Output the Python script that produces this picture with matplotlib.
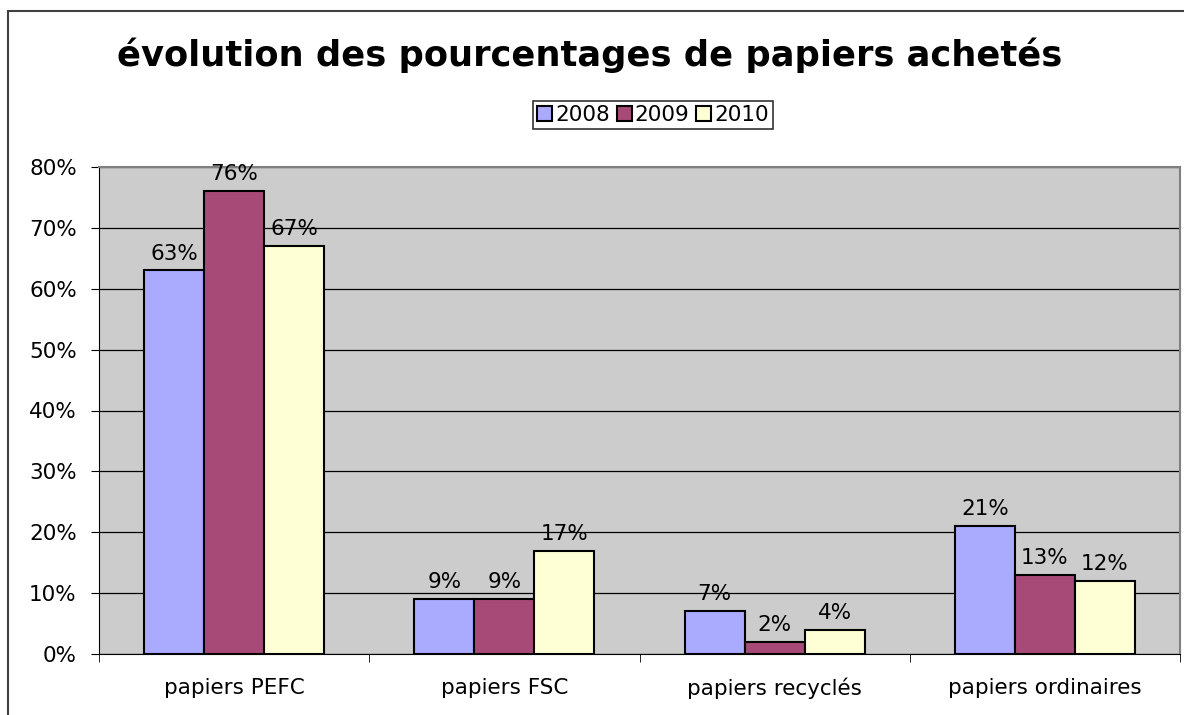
import matplotlib.pyplot as plt
import numpy as np
from matplotlib.patches import Rectangle

# data
categories = ['papiers PEFC', 'papiers FSC', 'papiers recyclés', 'papiers ordinaires']
years = ['2008', '2009', '2010']
v2008 = [63, 9, 7, 21]
v2009 = [76, 9, 2, 13]
v2010 = [67, 17, 4, 12]
colors = ['#AAAAFF', '#A84A78', '#FFFFD6']

fig = plt.figure(figsize=(11.84, 7.15), dpi=100)
ax = fig.add_axes([99/1184, 1 - 654/715, 1081/1184, 487/715])
ax.set_facecolor('#CCCCCC')

fs = 15.5
x = np.arange(len(categories))
w = 0.222
series = [v2008, v2009, v2010]
for i, vals in enumerate(series):
    pos = x + (i - 1) * w
    ax.bar(pos, vals, w, color=colors[i], edgecolor='black', linewidth=1.5,
           label=years[i], zorder=3)
    for p, v in zip(pos, vals):
        ax.annotate(f'{v}%', (p, v), xytext=(0, 5), textcoords='offset points',
                    ha='center', va='bottom', fontsize=fs, zorder=4)

ax.set_xlim(-0.5, len(categories) - 0.5)
ax.set_ylim(0, 80)
ax.set_yticks(range(0, 81, 10))
ax.set_yticklabels([f'{t}%' for t in range(0, 81, 10)], fontsize=fs)
ax.yaxis.grid(True, color='black', linewidth=0.9, zorder=1)

ax.set_xticks(x)
ax.set_xticklabels(categories, fontsize=fs)
ax.tick_params(axis='x', length=0, pad=17)
ax.set_xticks(np.arange(-0.5, len(categories)), minor=True)
ax.tick_params(axis='x', which='minor', length=6, color='black')
ax.tick_params(axis='y', length=6, color='black', pad=10)

for side in ['top', 'right']:
    ax.spines[side].set_color('#808080')
    ax.spines[side].set_linewidth(1.5)
ax.spines['left'].set_color('black')
ax.spines['bottom'].set_color('black')

fig.text(0.498, 1 - 55/715, 'évolution des pourcentages de papiers achetés',
         ha='center', va='center', fontsize=25.4, fontweight='bold')

leg = fig.legend(loc='center', bbox_to_anchor=(653/1184, 1 - 115/715), ncol=3,
                 fontsize=fs, frameon=True, fancybox=False, handlelength=0.7,
                 handleheight=0.7, handletextpad=0.15, columnspacing=0.3,
                 borderpad=0.2, edgecolor='black')
leg.get_frame().set_linewidth(1.2)

# outer chart border (cropped at right and bottom)
fig.patches.append(Rectangle((8/1184, -0.1), 1.2, 1 - 11/715 + 0.1, transform=fig.transFigure,
                             fill=False, edgecolor='#404040', linewidth=1.5))

fig.savefig('out.png', dpi=100)
